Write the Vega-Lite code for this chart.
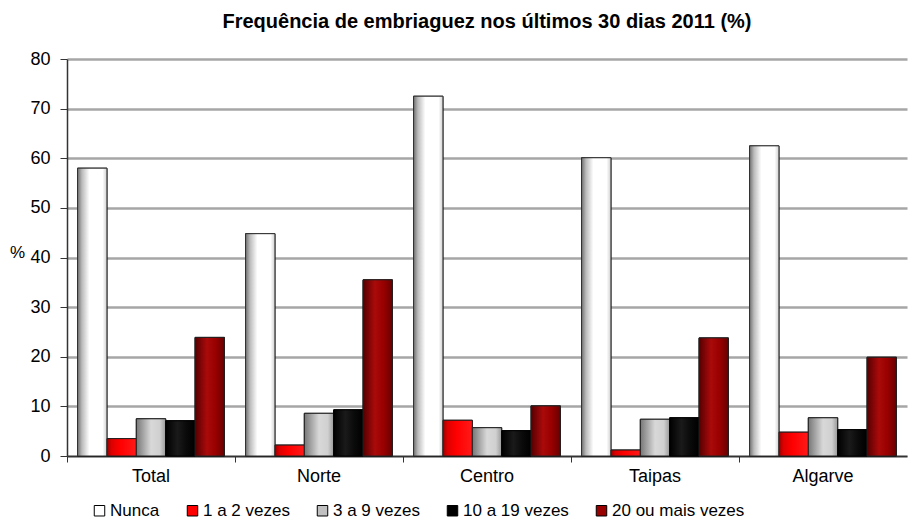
{
  "$schema": "https://vega.github.io/schema/vega-lite/v6.json",
  "width": 840,
  "height": 397,
  "autosize": "none",
  "padding": {"left": 67, "top": 59, "right": 7, "bottom": 67},
  "background": "white",
  "config": {"font": "Liberation Sans", "view": {"stroke": null}},
  "title": {"text": "Frequência de embriaguez nos últimos 30 dias 2011 (%)", "fontSize": 20, "fontWeight": "bold", "color": "black", "offset": 18, "anchor": "middle"},
  "data": {"values": [
    {"region": "Total", "serie": "Nunca", "v": 58},
    {"region": "Total", "serie": "1 a 2 vezes", "v": 3.5},
    {"region": "Total", "serie": "3 a 9 vezes", "v": 7.5},
    {"region": "Total", "serie": "10 a 19 vezes", "v": 7.1},
    {"region": "Total", "serie": "20 ou mais vezes", "v": 23.9},
    {"region": "Norte", "serie": "Nunca", "v": 44.8},
    {"region": "Norte", "serie": "1 a 2 vezes", "v": 2.2},
    {"region": "Norte", "serie": "3 a 9 vezes", "v": 8.6},
    {"region": "Norte", "serie": "10 a 19 vezes", "v": 9.3},
    {"region": "Norte", "serie": "20 ou mais vezes", "v": 35.5},
    {"region": "Centro", "serie": "Nunca", "v": 72.5},
    {"region": "Centro", "serie": "1 a 2 vezes", "v": 7.2},
    {"region": "Centro", "serie": "3 a 9 vezes", "v": 5.7},
    {"region": "Centro", "serie": "10 a 19 vezes", "v": 5.1},
    {"region": "Centro", "serie": "20 ou mais vezes", "v": 10.1},
    {"region": "Taipas", "serie": "Nunca", "v": 60.1},
    {"region": "Taipas", "serie": "1 a 2 vezes", "v": 1.2},
    {"region": "Taipas", "serie": "3 a 9 vezes", "v": 7.4},
    {"region": "Taipas", "serie": "10 a 19 vezes", "v": 7.7},
    {"region": "Taipas", "serie": "20 ou mais vezes", "v": 23.8},
    {"region": "Algarve", "serie": "Nunca", "v": 62.5},
    {"region": "Algarve", "serie": "1 a 2 vezes", "v": 4.8},
    {"region": "Algarve", "serie": "3 a 9 vezes", "v": 7.7},
    {"region": "Algarve", "serie": "10 a 19 vezes", "v": 5.3},
    {"region": "Algarve", "serie": "20 ou mais vezes", "v": 19.9}
  ]},
  "encoding": {
    "x": {"field": "region", "type": "nominal", "sort": ["Total", "Norte", "Centro", "Taipas", "Algarve"],
      "scale": {"paddingInner": 0, "paddingOuter": 0},
      "axis": {"title": null, "labelAngle": 0, "labelFontSize": 18, "labelColor": "black", "labelPadding": 5, "bandPosition": 0, "tickSize": 6, "tickColor": "#333", "domainColor": "#333", "domainWidth": 1.5, "grid": false}},
    "xOffset": {"field": "serie", "type": "nominal", "sort": ["Nunca", "1 a 2 vezes", "3 a 9 vezes", "10 a 19 vezes", "20 ou mais vezes"], "scale": {"paddingInner": 0, "paddingOuter": 0.36}},
    "y": {"field": "v", "type": "quantitative", "scale": {"domain": [0, 80]},
      "axis": {"title": "%", "titleAngle": 0, "titleFontSize": 17, "titleFontWeight": "normal", "titleColor": "black", "titleX": -50, "titleY": 202, "values": [0, 10, 20, 30, 40, 50, 60, 70, 80], "labelFontSize": 18, "labelColor": "black", "labelPadding": 10, "tickSize": 7, "tickColor": "#333", "domainColor": "#333", "domainWidth": 1.5, "gridColor": "#a6a6a6", "gridWidth": 2.5}}
  },
  "layer": [
    {
      "mark": {"type": "bar", "stroke": "black", "strokeWidth": 1},
      "encoding": {
        "fill": {"field": "serie", "type": "nominal", "sort": ["Nunca", "1 a 2 vezes", "3 a 9 vezes", "10 a 19 vezes", "20 ou mais vezes"],
          "scale": {"domain": ["Nunca", "1 a 2 vezes", "3 a 9 vezes", "10 a 19 vezes", "20 ou mais vezes"], "range": ["#ffffff", "#ff0000", "#c0c0c0", "#000000", "#990000"]},
          "legend": {"title": null, "orient": "none", "legendX": 24, "legendY": 443, "direction": "horizontal", "symbolType": "square", "symbolSize": 110, "symbolStrokeColor": "black", "symbolStrokeWidth": 1, "labelFontSize": 17, "labelColor": "black", "labelOffset": 2, "columnPadding": 24}}
      }
    },
    {
      "transform": [{"filter": "datum.serie == 'Nunca'"}],
      "mark": {"type": "bar", "stroke": "#333", "strokeWidth": 1, "fill": {"gradient": "linear", "x1": 0, "y1": 0, "x2": 1, "y2": 0, "stops": [{"offset": 0, "color": "#707070"}, {"offset": 0.15, "color": "#bbbbbb"}, {"offset": 0.4, "color": "#ffffff"}, {"offset": 0.85, "color": "#ffffff"}, {"offset": 1, "color": "#d0d0d0"}]}}
    },
    {
      "transform": [{"filter": "datum.serie == '1 a 2 vezes'"}],
      "mark": {"type": "bar", "stroke": "#222", "strokeWidth": 1, "fill": {"gradient": "linear", "x1": 0, "y1": 0, "x2": 1, "y2": 0, "stops": [{"offset": 0, "color": "#990000"}, {"offset": 0.15, "color": "#dd0000"}, {"offset": 0.45, "color": "#ff0000"}, {"offset": 1, "color": "#ff1a1a"}]}}
    },
    {
      "transform": [{"filter": "datum.serie == '3 a 9 vezes'"}],
      "mark": {"type": "bar", "stroke": "#222", "strokeWidth": 1, "fill": {"gradient": "linear", "x1": 0, "y1": 0, "x2": 1, "y2": 0, "stops": [{"offset": 0, "color": "#777777"}, {"offset": 0.5, "color": "#d8d8d8"}, {"offset": 0.8, "color": "#d0d0d0"}, {"offset": 1, "color": "#999999"}]}}
    },
    {
      "transform": [{"filter": "datum.serie == '10 a 19 vezes'"}],
      "mark": {"type": "bar", "stroke": "#000", "strokeWidth": 1, "fill": {"gradient": "linear", "x1": 0, "y1": 0, "x2": 1, "y2": 0, "stops": [{"offset": 0, "color": "#000000"}, {"offset": 0.4, "color": "#1a1a1a"}, {"offset": 0.7, "color": "#0a0a0a"}, {"offset": 1, "color": "#000000"}]}}
    },
    {
      "transform": [{"filter": "datum.serie == '20 ou mais vezes'"}],
      "mark": {"type": "bar", "stroke": "#222", "strokeWidth": 1, "fill": {"gradient": "linear", "x1": 0, "y1": 0, "x2": 1, "y2": 0, "stops": [{"offset": 0, "color": "#550000"}, {"offset": 0.4, "color": "#aa0a0a"}, {"offset": 0.7, "color": "#990000"}, {"offset": 1, "color": "#660000"}]}}
    }
  ]
}
